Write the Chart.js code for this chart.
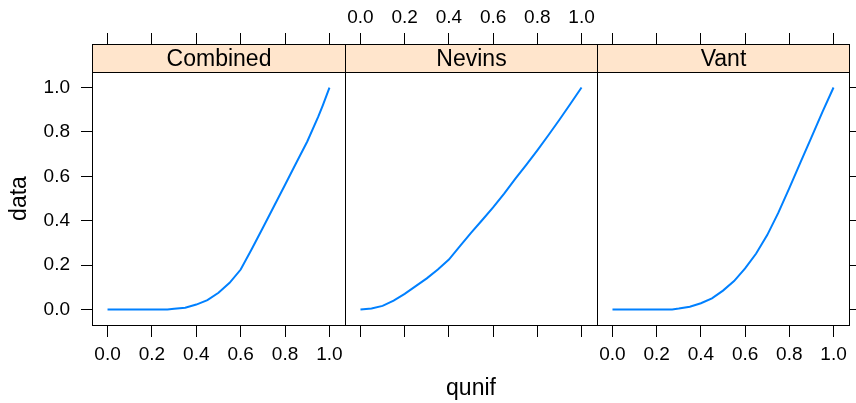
<!DOCTYPE html>
<html>
<head>
<meta charset="utf-8">
<script src="https://cdn.jsdelivr.net/npm/chart.js@4"></script>
<style>
  body { margin: 0; background: #fff; }
  #wrap { position: relative; width: 856px; height: 403px; }
  #wrap canvas { position: absolute; left: 0; top: 0; }
</style>
</head>
<body>
<div id="wrap">
  <canvas id="p1" width="856" height="403"></canvas>
  <canvas id="p2" width="856" height="403"></canvas>
  <canvas id="p3" width="856" height="403"></canvas>
</div>
<script>
const panelNames = ["Combined", "Nevins", "Vant"];
const tickValues = [0, 0.2, 0.4, 0.6, 0.8, 1.0];

// qunif -> data
const combinedX = [0, 0.1, 0.2, 0.27, 0.3, 0.35, 0.4, 0.45, 0.5, 0.55, 0.6, 0.65, 0.7, 0.75, 0.8, 0.85, 0.9, 0.95, 0.97, 1.0];
const combinedY = [0, 0, 0, 0, 0.003, 0.008, 0.022, 0.042, 0.075, 0.12, 0.18, 0.272, 0.368, 0.465, 0.562, 0.66, 0.757, 0.87, 0.92, 1.0];

const nevinsX = [0, 0.05, 0.1, 0.15, 0.2, 0.25, 0.3, 0.35, 0.4, 0.45, 0.5, 0.55, 0.6, 0.65, 0.7, 0.75, 0.8, 0.85, 0.9, 0.95, 1.0];
const nevinsY = [0, 0.004, 0.016, 0.04, 0.07, 0.105, 0.14, 0.18, 0.225, 0.285, 0.345, 0.402, 0.46, 0.522, 0.588, 0.652, 0.717, 0.785, 0.855, 0.927, 1.0];

const vantX = [0, 0.1, 0.2, 0.27, 0.3, 0.35, 0.4, 0.45, 0.5, 0.55, 0.6, 0.65, 0.7, 0.75, 0.8, 0.85, 0.9, 0.95, 1.0];
const vantY = [0, 0, 0, 0, 0.004, 0.012, 0.028, 0.05, 0.085, 0.128, 0.185, 0.252, 0.335, 0.435, 0.547, 0.662, 0.775, 0.89, 1.0];

Chart.defaults.font.family = "'Liberation Sans', Arial, sans-serif";
Chart.defaults.color = "#000";

const LO = -0.07, HI = 1.07;
const STRIP_TOP = 44;

function toPoints(xs, ys) {
  return xs.map((x, i) => ({ x: x, y: ys[i] }));
}

function fixTicks(scale) {
  scale.ticks = tickValues.map(v => ({ value: v }));
}

const stripPlugin = {
  id: "strip",
  afterDraw(chart) {
    const ctx = chart.ctx;
    const a = chart.chartArea;
    const l = Math.round(a.left) + 0.5, r = Math.round(a.right) + 0.5;
    const t = Math.round(a.top) + 0.5, b = Math.round(a.bottom) + 0.5;
    const st = STRIP_TOP + 0.5;
    ctx.save();
    ctx.fillStyle = "#ffe5cc";
    ctx.fillRect(l, st, r - l, t - st);
    ctx.strokeStyle = "#000";
    ctx.lineWidth = 1;
    ctx.strokeRect(l, st, r - l, t - st);
    ctx.strokeRect(l, t, r - l, b - t);
    ctx.fillStyle = "#000";
    ctx.font = "23px 'Liberation Sans', Arial, sans-serif";
    ctx.textAlign = "center";
    ctx.textBaseline = "alphabetic";
    ctx.fillText(chart.options.plugins.strip.label, (l + r) / 2, 66);
    ctx.restore();
  }
};

function makePanel(id, idx, xs, ys, pad) {
  const first = idx === 0, last = idx === 2, mid = idx === 1;
  new Chart(document.getElementById(id), {
    type: "scatter",
    data: {
      datasets: [{
        data: toPoints(xs, ys),
        showLine: true,
        borderColor: "#0080ff",
        borderWidth: 2,
        pointRadius: 0,
        fill: false
      }]
    },
    options: {
      responsive: false,
      animation: false,
      layout: { padding: pad },
      plugins: {
        legend: { display: false },
        tooltip: { enabled: false },
        strip: { label: panelNames[idx] }
      },
      scales: {
        x: {
          type: "linear", position: "bottom", min: LO, max: HI,
          afterBuildTicks: fixTicks,
          afterFit: s => { s.height = 78; s.paddingLeft = 0; s.paddingRight = 0; },
          grid: { drawOnChartArea: false, tickLength: 12, tickColor: "#000", color: "#000" },
          border: { display: false },
          ticks: {
            display: !mid, padding: 6, font: { size: 19 }, maxRotation: 0,
            callback: v => v.toFixed(1)
          },
          title: {
            display: mid, text: "qunif", font: { size: 23 },
            padding: { top: 0, bottom: 1 }
          }
        },
        x2: {
          type: "linear", position: "top", min: LO, max: HI,
          afterBuildTicks: fixTicks,
          afterFit: s => { s.height = 72; s.paddingLeft = 0; s.paddingRight = 0; },
          grid: { drawOnChartArea: false, tickLength: 39, tickColor: "#000", color: "#000" },
          border: { display: false },
          ticks: {
            display: mid, padding: 4, font: { size: 19 }, maxRotation: 0,
            callback: v => v.toFixed(1)
          }
        },
        y: {
          type: "linear", position: last ? "right" : "left", min: LO, max: HI,
          display: first || last,
          afterBuildTicks: fixTicks,
          afterFit: s => { s.width = first ? 92 : (last ? 7 : 0); s.paddingTop = 0; s.paddingBottom = 0; },
          grid: { drawOnChartArea: false, tickLength: 11, tickColor: "#000", color: "#000" },
          border: { display: false },
          ticks: {
            display: first, padding: 11, font: { size: 19 },
            callback: v => v.toFixed(1)
          },
          title: {
            display: first, text: "data", font: { size: 23 },
            padding: { top: 6, bottom: 0 }
          }
        }
      }
    },
    plugins: [stripPlugin]
  });
}

makePanel("p1", 0, combinedX, combinedY, { left: 0, right: 511, top: 0, bottom: 0 });
makePanel("p2", 1, nevinsX, nevinsY, { left: 345, right: 259, top: 0, bottom: 0 });
makePanel("p3", 2, vantX, vantY, { left: 597, right: 0, top: 0, bottom: 0 });
</script>
</body>
</html>
